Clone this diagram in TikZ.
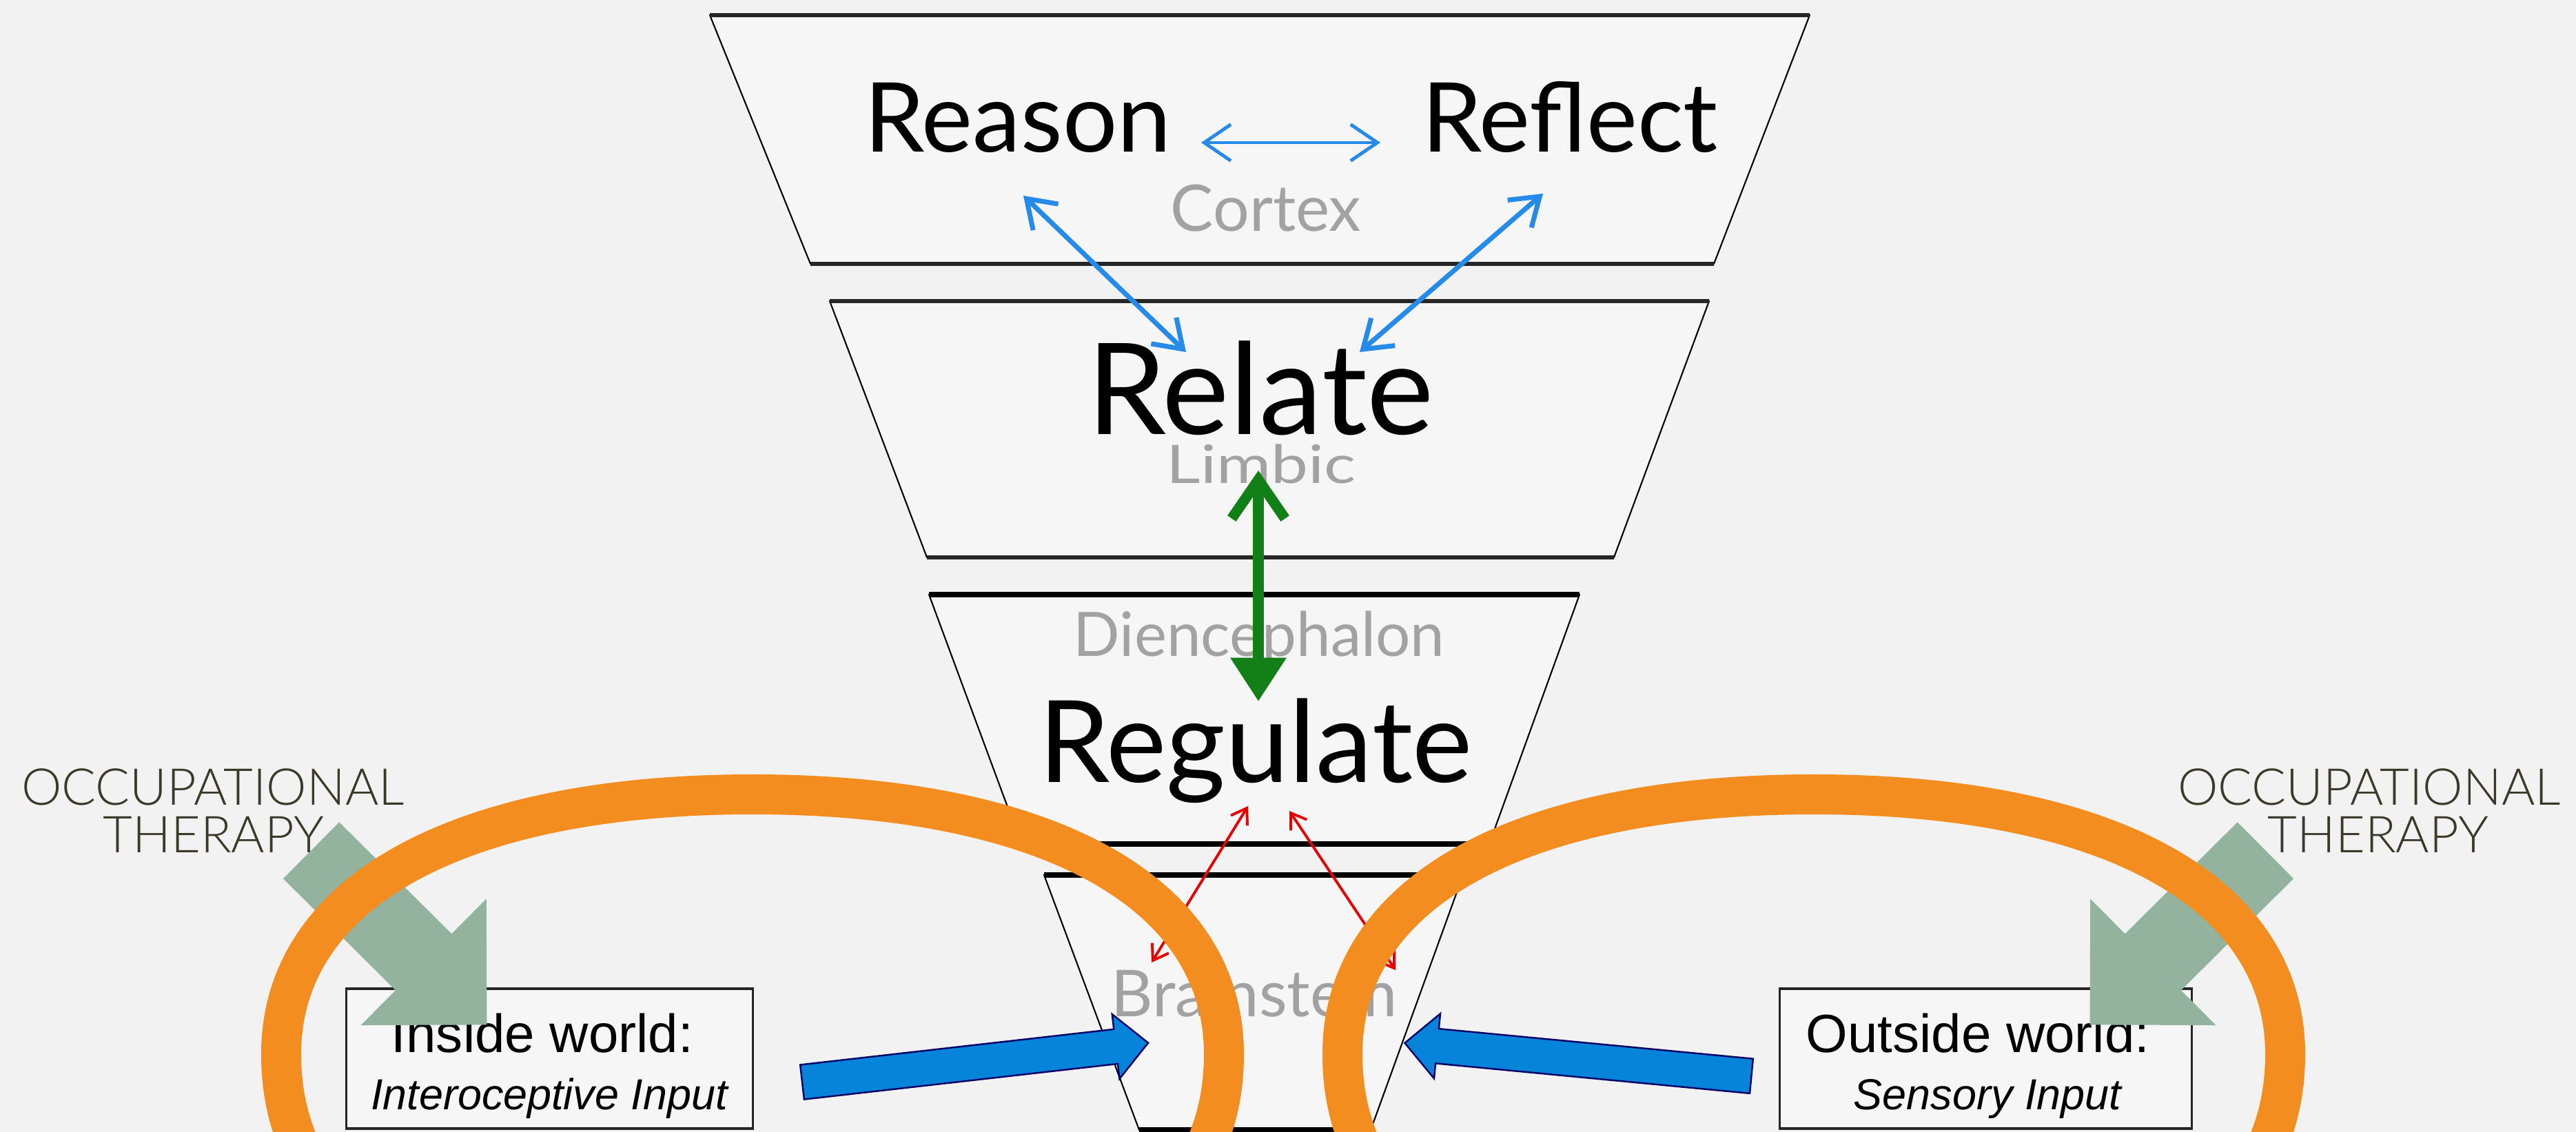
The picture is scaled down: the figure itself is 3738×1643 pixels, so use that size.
\documentclass[tikz,border=0pt]{standalone}
\usepackage{fontspec}
\setmainfont{Lato}
\newfontfamily\arialfont{Liberation Sans}
\newfontfamily\thinfont{Lato Light}
\usetikzlibrary{arrows.meta,shapes.arrows}

\definecolor{paper}{RGB}{242,242,242}
\definecolor{layerfill}{RGB}{246,246,246}
\definecolor{partgray}{RGB}{162,162,162}
\definecolor{linkblue}{RGB}{38,138,232}
\definecolor{inputblue}{RGB}{6,132,218}
\definecolor{loopgreen}{RGB}{18,128,22}
\definecolor{sage}{RGB}{148,179,159}
\definecolor{olive}{RGB}{58,58,42}
\definecolor{ring}{RGB}{244,141,31}

\newcommand{\pxfont}[1]{\fontsize{#1}{#1}\selectfont}

\tikzset{
  layerbox/.style={fill=layerfill, draw=black, line width=0.6pt, line join=round},
  rim/.style={draw=black!85, line width=1.8pt},
  rimdark/.style={draw=black, line width=2.2pt},
  word/.style={inner sep=0pt, anchor=base},
  partname/.style={word, text=partgray},
  bluelink/.style={draw=linkblue, line width=2pt,
    {Straight Barb[length=11pt,width=15pt]}-{Straight Barb[length=11pt,width=15pt]}},
  loopline/.style={draw=loopgreen, line width=4.3pt,
    {Straight Barb[length=16pt,width=22pt]}-{Triangle[length=18pt,width=22pt]}},
  reflex/.style={draw=red!90!black, line width=1.1pt,
    {Straight Barb[length=6pt,width=8pt]}-{Straight Barb[length=6pt,width=8pt]}},
  worldbox/.style={draw=black!85, line width=0.9pt, fill=layerfill,
    minimum height=2.03cm, inner sep=0pt},
  inarrow/.style={single arrow, fill=inputblue, draw=black!60!blue, line width=0.7pt,
    inner xsep=0pt, inner ysep=0.24cm, single arrow head extend=0.22cm,
    minimum height=5.05cm},
  otarrow/.style={single arrow, fill=sage, inner xsep=0pt, inner ysep=0.57cm,
    single arrow head extend=0.715cm, minimum height=3.59cm},
  ottext/.style={word, text=olive, font=\thinfont\pxfont{21pt}},
  ringline/.style={draw=ring, line width=16.5pt}
}

\begin{document}
\begin{tikzpicture}[x=0.01cm, y=-0.01cm]
  \fill[paper] (0,0) rectangle (3738,1643);
  \useasboundingbox (0,0) rectangle (3738,1643);

  % the four layers, cortex down to brainstem
  \draw[layerbox] (1030,22) -- (2626,22) -- (2487,383) -- (1176,383) -- cycle;
  \draw[layerbox] (1204,437) -- (2480,437) -- (2342,809) -- (1345,809) -- cycle;
  \draw[layerbox] (1348,863) -- (2292,863) -- (2161,1225) -- (1482,1225) -- cycle;
  \draw[layerbox] (1515,1270) -- (2123,1270) -- (1989,1640) -- (1653,1640) -- cycle;
  \draw[rim] (1030,22) -- (2626,22) (1176,383) -- (2487,383);
  \draw[rim] (1204,437) -- (2480,437) (1345,809) -- (2342,809);
  \draw[rimdark] (1348,863) -- (2292,863) (1482,1225) -- (2161,1225);
  \draw[rimdark] (1515,1270) -- (2123,1270) (1653,1640) -- (1989,1640);

  \node[word, font=\pxfont{39.8pt}] (reason) at (1477,221) {Reason};
  \node[word, font=\pxfont{39.8pt}] (reflect) at (2278,221) {Reflect};
  \node[partname, font=\pxfont{26.5pt}] (cortex) at (1837,336) {Cortex};
  \node[word, font=\pxfont{52.4pt}] (relate) at (1829,631) {Relate};
  \node[partname, font=\pxfont{21.9pt}] (limbic) at (1830,702) {\scalebox{1.25}[1]{Limbic}};
  \node[partname, font=\pxfont{25.3pt}] (dien) at (1827,953) {Diencephalon};
  \node[word, font=\pxfont{47pt}] (regulate) at (1822,1136) {Regulate};
  \node[partname, font=\pxfont{26.7pt}] (brainstem) at (1820,1475) {Brainstem};

  % arrow ends between the layers
  \coordinate (reasonR) at (1743,207);
  \coordinate (reflectL) at (2003,207);
  \coordinate (reasonB) at (1485,284);
  \coordinate (reflectB) at (2239,281);
  \coordinate (relateL) at (1721,511);
  \coordinate (relateR) at (1973,511);
  \coordinate (limbicB) at (1826,683);
  \coordinate (regulateT) at (1826,1018);
  \coordinate (regulateL) at (1811,1170);
  \coordinate (regulateR) at (1871,1177);
  \coordinate (stemL) at (1671,1397);
  \coordinate (stemR) at (2025,1408);

  \draw[bluelink, line width=1.4pt] (reasonR) -- (reflectL);
  \draw[bluelink] (reasonB) -- (relateL);
  \draw[bluelink] (reflectB) -- (relateR);
  \draw[loopline] (limbicB) -- (regulateT);
  \draw[reflex] (regulateL) -- (stemL);
  \draw[reflex] (regulateR) -- (stemR);

  % input boxes
  \node[worldbox, minimum width=5.89cm] (inbox) at (797.5,1536.5) {};
  \node[word, font=\arialfont\pxfont{22.2pt}] (inhead) at (787,1527) {Inside world:};
  \node[word, font=\arialfont\itshape\pxfont{17.9pt}] (insub) at (797,1610) {Interoceptive Input};
  \node[worldbox, minimum width=5.97cm] (outbox) at (2881.5,1536.5) {};
  \node[word, font=\arialfont\pxfont{22.2pt}] (outhead) at (2870,1527) {Outside world:};
  \node[word, font=\arialfont\itshape\pxfont{17.9pt}] (outsub) at (2884,1610) {Sensory Input};

  \node[inarrow, rotate=6.47] (inleft) at (1402.5,1543.5) {};
  \node[inarrow, rotate=174.55] (inright) at (2302.5,1539) {};

  % therapy arrows and captions
  \node[otarrow, rotate=-44.8] (otleft) at (558.5,1340.5) {};
  \node[otarrow, rotate=-135.2] (otright) at (3180.5,1340.5) {};
  \node[ottext] (otlA) at (309,1169) {OCCUPATIONAL};
  \node[ottext] (otlB) at (310,1237) {THERAPY};
  \node[ottext] (otrA) at (3438,1169) {OCCUPATIONAL};
  \node[ottext] (otrB) at (3451,1237) {THERAPY};

  % the two loops, flat on top and running off the bottom
  \foreach \cx in {1092,2632} {
    \draw[ringline] (\cx-684,1530) .. controls (\cx-684,1293) and (\cx-424,1153) .. (\cx,1153)
      .. controls (\cx+424,1153) and (\cx+684,1293) .. (\cx+684,1530)
      .. controls (\cx+684,1800) and (\cx+410,1920) .. (\cx,1920)
      .. controls (\cx-410,1920) and (\cx-684,1800) .. (\cx-684,1530) -- cycle;
  }
\end{tikzpicture}
\end{document}
